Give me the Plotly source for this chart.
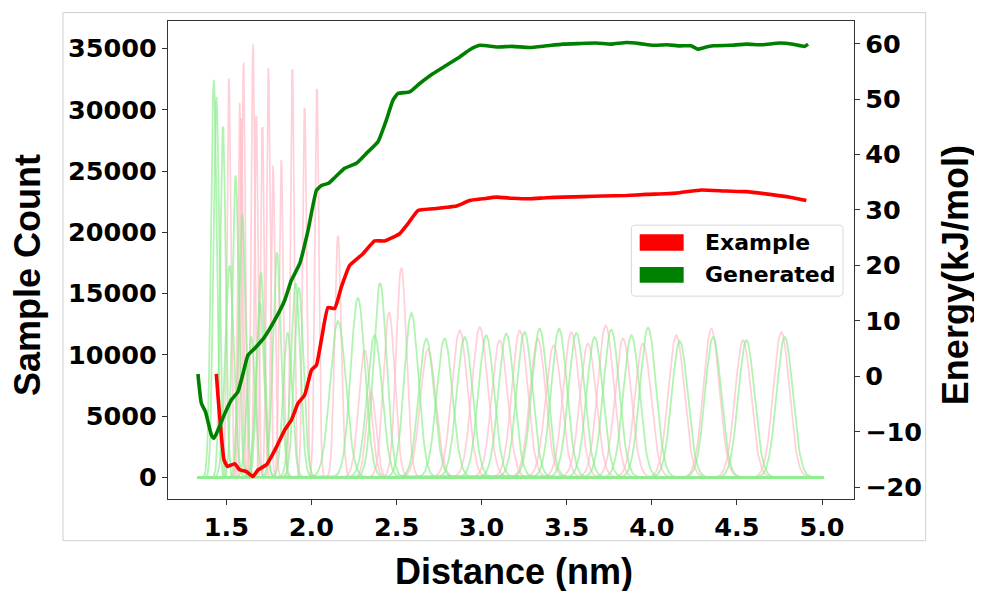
import numpy as np
import plotly.graph_objects as go

# ---------------- data ----------------
# PMF (right axis, kJ/mol)
gen_pmf_x = [1.333, 1.353, 1.377, 1.412, 1.427, 1.451, 1.490, 1.529, 1.568, 1.598,
             1.627, 1.666, 1.725, 1.784, 1.843, 1.882, 1.931, 1.980, 2.029, 2.058,
             2.100, 2.136, 2.195, 2.264, 2.323, 2.391, 2.440, 2.479, 2.508, 2.577,
             2.636, 2.715, 2.793, 2.871, 2.930, 2.989, 3.087, 3.180, 3.282, 3.380,
             3.478, 3.570, 3.674, 3.760, 3.851, 3.930, 4.007, 4.090, 4.164, 4.230,
             4.271, 4.310, 4.360, 4.460, 4.556, 4.650, 4.751, 4.830, 4.898, 4.918]
gen_pmf_e = [0.4, -4.9, -6.4, -10.6, -11.2, -9.7, -6.8, -4.3, -2.8, 0.5,
             3.8, 5.0, 7.1, 10.1, 13.7, 17.3, 20.3, 26.3, 33.5, 34.4,
             34.8, 35.8, 37.5, 38.4, 40.2, 42.3, 46.2, 49.8, 51.0, 51.3,
             52.8, 54.6, 56.1, 57.6, 58.9, 59.7, 59.4, 59.5, 59.3, 59.6,
             59.9, 60.0, 60.1, 59.9, 60.2, 60.0, 59.7, 59.8, 59.6, 59.6,
             59.0, 59.3, 59.6, 59.7, 59.9, 59.8, 60.1, 59.9, 59.5, 59.9]

ex_pmf_x = [1.441, 1.451, 1.471, 1.486, 1.506, 1.549, 1.578, 1.618, 1.656, 1.686,
            1.735, 1.794, 1.843, 1.882, 1.921, 1.960, 2.000, 2.029, 2.058, 2.097,
            2.136, 2.176, 2.225, 2.303, 2.371, 2.430, 2.518, 2.567, 2.626, 2.715,
            2.852, 2.930, 3.008, 3.087, 3.180, 3.282, 3.380, 3.478, 3.600, 3.713,
            3.850, 3.968, 4.080, 4.164, 4.291, 4.438, 4.556, 4.693, 4.810, 4.908]
ex_pmf_e = [0.4, -3.7, -10.9, -15.1, -16.3, -15.8, -16.9, -17.2, -18.1, -16.9,
            -16.0, -12.8, -9.7, -7.9, -4.9, -3.4, 1.1, 2.0, 6.5, 12.4,
            12.2, 16.1, 20.0, 22.1, 24.4, 24.4, 25.7, 27.5, 29.9, 30.2,
            30.7, 31.7, 32.0, 32.3, 32.1, 32.0, 32.2, 32.3, 32.4, 32.5,
            32.6, 32.8, 32.9, 33.1, 33.6, 33.4, 33.3, 32.8, 32.3, 31.7]

# Umbrella window histograms (left axis): centre (nm), peak count, width (nm)
ex_centers = [1.515, 1.578, 1.588, 1.601, 1.657, 1.676, 1.712, 1.747, 1.774, 1.823,
              1.888, 1.960, 2.032, 2.156, 2.313, 2.350, 2.456, 2.528, 2.685, 2.871,
              2.989, 3.106, 3.224, 3.330, 3.423, 3.527, 3.625, 3.729, 3.831, 3.948,
              4.144, 4.350, 4.536, 4.761]
ex_heights = [32700, 30600, 29700, 34000, 35500, 29900, 29000, 33540, 25460, 26000,
              33800, 30500, 32100, 19750, 10360, 7000, 13490, 17160, 10470, 11990,
              12260, 11180, 11990, 11300, 10770, 11860, 10910, 12400, 11320, 10910,
              11590, 12130, 11180, 11860]
ex_widths = [0.011, 0.011, 0.011, 0.011, 0.011, 0.011, 0.011, 0.011, 0.012, 0.012,
             0.011, 0.012, 0.012, 0.019, 0.035, 0.028, 0.033, 0.030, 0.045, 0.046,
             0.046, 0.046, 0.046, 0.046, 0.047, 0.047, 0.047, 0.047, 0.047, 0.047,
             0.047, 0.047, 0.047, 0.047]

gen_centers = [1.426, 1.441, 1.480, 1.519, 1.554, 1.593, 1.645, 1.697, 1.703, 1.797,
               1.860, 1.907, 1.926, 2.156, 2.273, 2.371, 2.403, 2.587, 2.675, 2.782,
               2.900, 3.027, 3.145, 3.252, 3.341, 3.455, 3.557, 3.664, 3.762, 3.880,
               3.978, 4.164, 4.360, 4.556, 4.781]
gen_heights = [32450, 31090, 28780, 17300, 24650, 21500, 11500, 14300, 16750, 18380,
               11800, 15850, 15500, 12750, 14660, 11590, 15830, 13400, 11320, 11320,
               11450, 11590, 11720, 11860, 12130, 12130, 11780, 11450, 12050, 11590,
               12210, 11120, 11450, 11180, 11450]
gen_widths = [0.017, 0.017, 0.016, 0.025, 0.019, 0.020, 0.024, 0.024, 0.022, 0.024,
              0.026, 0.027, 0.027, 0.046, 0.042, 0.044, 0.039, 0.042, 0.045, 0.046,
              0.046, 0.046, 0.046, 0.046, 0.046, 0.046, 0.047, 0.047, 0.047, 0.047,
              0.047, 0.047, 0.047, 0.047, 0.047]

hist_x_min, hist_x_max = 1.33, 5.01

x_ticks = [1.5, 2.0, 2.5, 3.0, 3.5, 4.0, 4.5, 5.0]
x_tick_text = ["1.5", "2.0", "2.5", "3.0", "3.5", "4.0", "4.5", "5.0"]
y_ticks = [0, 5000, 10000, 15000, 20000, 25000, 30000, 35000]
y_tick_text = ["0", "5000", "10000", "15000", "20000", "25000", "30000", "35000"]
y2_ticks = [-20, -10, 0, 10, 20, 30, 40, 50, 60]
y2_tick_text = ["\u221220", "\u221210", "0", "10", "20", "30", "40", "50", "60"]

# ---------------- figure ----------------
fig = go.Figure()
grid = np.arange(hist_x_min, hist_x_max + 1e-9, 0.004)

for c, h, w in zip(ex_centers, ex_heights, ex_widths):
    fig.add_trace(go.Scatter(x=grid, y=h * np.exp(-0.5 * ((grid - c) / w) ** 2),
                             mode="lines", line=dict(color="rgba(255,192,203,0.75)", width=1.7),
                             showlegend=False, hoverinfo="skip"))
for c, h, w in zip(gen_centers, gen_heights, gen_widths):
    fig.add_trace(go.Scatter(x=grid, y=h * np.exp(-0.5 * ((grid - c) / w) ** 2),
                             mode="lines", line=dict(color="rgba(144,238,144,0.7)", width=1.8),
                             showlegend=False, hoverinfo="skip"))

fig.add_trace(go.Scatter(x=ex_pmf_x, y=ex_pmf_e, yaxis="y2", mode="lines",
                         line=dict(color="red", width=3.6, shape="spline", smoothing=0.4),
                         name="Example", showlegend=False))
fig.add_trace(go.Scatter(x=gen_pmf_x, y=gen_pmf_e, yaxis="y2", mode="lines",
                         line=dict(color="green", width=3.6, shape="spline", smoothing=0.4),
                         name="Generated", showlegend=False))

tick_font = dict(family="DejaVu Sans", size=25.5, color="black", weight="bold")
axis_common = dict(showgrid=False, zeroline=False, showline=True, linecolor="#333333",
                   linewidth=1.3, ticks="outside", ticklen=5, tickcolor="#333333",
                   tickwidth=1.2, tickfont=tick_font)

# the page adds an 8 px body margin, so the figure is 8 px smaller
fig.update_layout(
    width=974, height=583,
    margin=dict(l=160, r=128, t=13, b=92),
    paper_bgcolor="white", plot_bgcolor="white",
    xaxis=dict(range=[1.157, 5.188], tickvals=x_ticks, ticktext=x_tick_text,
               mirror=True, **axis_common),
    yaxis=dict(range=[-1774, 37249], tickvals=y_ticks, ticktext=y_tick_text, **axis_common),
    yaxis2=dict(range=[-22.16, 64.08], tickvals=y2_ticks, ticktext=y2_tick_text,
                overlaying="y", side="right", **axis_common),
    showlegend=False,
)

title_font = dict(family="Liberation Sans", size=36, color="black", weight="bold")
fig.add_annotation(text="Distance (nm)", xref="paper", yref="paper", x=0.505, y=-0.1526,
                   xanchor="center", yanchor="middle", showarrow=False, font=title_font)
fig.add_annotation(text="Sample Count", xref="paper", yref="paper", x=-0.2045, y=0.468,
                   xanchor="center", yanchor="middle", textangle=-90, showarrow=False,
                   font=title_font)
fig.add_annotation(text="Energy(kJ/mol)", xref="paper", yref="paper", x=1.147, y=0.468,
                   xanchor="center", yanchor="middle", textangle=-90, showarrow=False,
                   font=title_font)

# outer light frame
fig.add_shape(type="rect", xref="paper", yref="paper", x0=-0.1531, x1=1.1045,
              y0=-0.0872, y1=1.0176, line=dict(color="#cfcfcf", width=1), layer="below")

# legend (manual)
lx0, lx1, ly0, ly1 = 0.6755, 0.984, 0.4244, 0.5729
rx, ry = 0.006, 0.0085
path = (f"M {lx0+rx},{ly0} L {lx1-rx},{ly0} Q {lx1},{ly0} {lx1},{ly0+ry} "
        f"L {lx1},{ly1-ry} Q {lx1},{ly1} {lx1-rx},{ly1} L {lx0+rx},{ly1} "
        f"Q {lx0},{ly1} {lx0},{ly1-ry} L {lx0},{ly0+ry} Q {lx0},{ly0} {lx0+rx},{ly0} Z")
fig.add_shape(type="path", xref="paper", yref="paper", path=path,
              line=dict(color="#d8d8d8", width=1), fillcolor="rgba(255,255,255,0.85)")
legend_items = [("Example", "red", 0.5191, 0.5540), ("Generated", "green", 0.4522, 0.4851)]
legend_font = dict(family="DejaVu Sans", size=22, color="black", weight="bold")
for label, col, y0, y1 in legend_items:
    fig.add_shape(type="rect", xref="paper", yref="paper", x0=0.6876, x1=0.7517,
                  y0=y0, y1=y1, line=dict(width=0), fillcolor=col)
    fig.add_annotation(text=label, xref="paper", yref="paper", x=0.7794, y=(y0 + y1) / 2,
                       xanchor="left", yanchor="middle", showarrow=False, font=legend_font)

fig.write_html("out.html")
